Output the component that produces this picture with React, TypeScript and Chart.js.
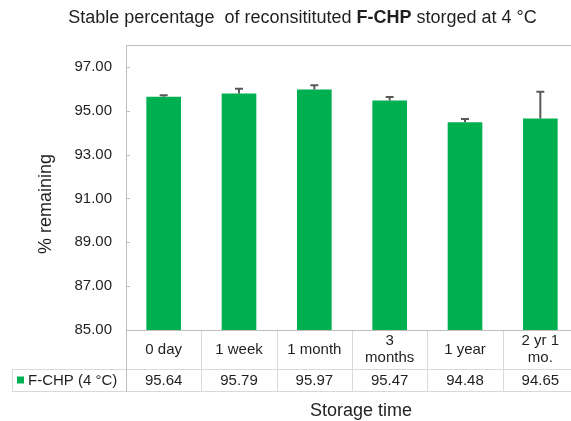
import React, { useEffect, useRef } from "react";
import { Chart, registerables } from "chart.js";

Chart.register(...registerables);

const categories: string[][] = [["0 day"], ["1 week"], ["1 month"], ["3", "months"], ["1 year"], ["2 yr 1", "mo."]];
const values: number[] = [95.64, 95.79, 95.97, 95.47, 94.48, 94.65];
const errors: number[] = [0.07, 0.22, 0.19, 0.16, 0.15, 1.22];
const yTicks: number[] = [85, 87, 89, 91, 93, 95, 97];
const seriesName = "F-CHP (4 °C)";
const titleParts: { text: string; bold: boolean }[] = [
  { text: "Stable percentage  of reconsitituted ", bold: false },
  { text: "F-CHP", bold: true },
  { text: " storged at 4 °C", bold: false },
];
const xTitle = "Storage time";
const yTitle = "% remaining";

const FONT = "'Liberation Sans', Arial, sans-serif";
const GREEN = "#00B050";
const TEXT = "#1f1f1f";

const tablePlugin = {
  id: "tablePlugin",
  afterDatasetsDraw(chart: any) {
    const ctx = chart.ctx;
    const y = chart.scales.y;
    const meta = chart.getDatasetMeta(0);
    ctx.save();
    ctx.strokeStyle = "#595959";
    ctx.lineWidth = 2;
    meta.data.forEach((el: any, i: number) => {
      const top = y.getPixelForValue(values[i] + errors[i]);
      const base = el.y;
      ctx.beginPath();
      ctx.moveTo(el.x, base);
      ctx.lineTo(el.x, top);
      ctx.moveTo(el.x - 4, top);
      ctx.lineTo(el.x + 4, top);
      ctx.stroke();
    });
    ctx.restore();
  },
  afterDraw(chart: any) {
    const ctx = chart.ctx;
    const { left, right, top, bottom } = chart.chartArea;
    const y = chart.scales.y;
    const n = categories.length;
    const cw = (right - left) / n;
    const row1 = bottom + 39;
    const row2 = row1 + 22;
    const tableLeft = 12;
    ctx.save();
    // table inner lines
    ctx.strokeStyle = "#d9d9d9";
    ctx.lineWidth = 1;
    ctx.beginPath();
    ctx.moveTo(tableLeft, Math.round(row1) + 0.5);
    ctx.lineTo(right, Math.round(row1) + 0.5);
    ctx.moveTo(tableLeft, Math.round(row2) + 0.5);
    ctx.lineTo(right, Math.round(row2) + 0.5);
    ctx.moveTo(tableLeft + 0.5, Math.round(row1));
    ctx.lineTo(tableLeft + 0.5, Math.round(row2));
    for (let i = 1; i <= n; i++) {
      const x = Math.round(left + cw * i) + 0.5;
      ctx.moveTo(x, bottom);
      ctx.lineTo(x, row2);
    }
    ctx.stroke();
    // frame
    ctx.strokeStyle = "#bfbfbf";
    ctx.beginPath();
    ctx.moveTo(Math.round(left) + 0.5, Math.round(top));
    ctx.lineTo(Math.round(left) + 0.5, Math.round(row2) + 1);
    ctx.moveTo(left, Math.round(top) + 0.5);
    ctx.lineTo(right, Math.round(top) + 0.5);
    ctx.moveTo(left, Math.round(bottom) + 0.5);
    ctx.lineTo(right, Math.round(bottom) + 0.5);
    ctx.moveTo(Math.round(right) - 0.5, top);
    ctx.lineTo(Math.round(right) - 0.5, bottom);
    // inside tick marks
    yTicks.forEach((v) => {
      const py = Math.round(y.getPixelForValue(v)) + 0.5;
      ctx.moveTo(left, py);
      ctx.lineTo(left + 4, py);
    });
    ctx.stroke();

    // category labels
    ctx.fillStyle = TEXT;
    ctx.font = `15px ${FONT}`;
    ctx.textAlign = "center";
    ctx.textBaseline = "middle";
    const lh = 17;
    categories.forEach((lines, i) => {
      const cx = left + cw * (i + 0.5);
      const cy = (bottom + row1) / 2;
      const start = cy - ((lines.length - 1) * lh) / 2;
      lines.forEach((l, j) => ctx.fillText(l, cx, start + j * lh));
      ctx.fillText(values[i].toFixed(2), cx, (row1 + row2) / 2 + 1);
    });
    // legend key cell
    ctx.fillStyle = GREEN;
    ctx.fillRect(17, (row1 + row2) / 2 - 3.5, 7, 7);
    ctx.fillStyle = TEXT;
    ctx.textAlign = "left";
    ctx.fillText(seriesName, 28, (row1 + row2) / 2 + 1);

    // axis titles
    ctx.font = `18px ${FONT}`;
    ctx.textAlign = "center";
    ctx.fillText(xTitle, 361, 411);
    ctx.save();
    ctx.translate(46, 204);
    ctx.rotate(-Math.PI / 2);
    ctx.fillText(yTitle, 0, 0);
    ctx.restore();

    // title
    const fontN = `18px ${FONT}`;
    const fontB = `bold 18px ${FONT}`;
    let total = 0;
    titleParts.forEach((p) => {
      ctx.font = p.bold ? fontB : fontN;
      total += ctx.measureText(p.text).width;
    });
    let x = 302.5 - total / 2;
    ctx.textAlign = "left";
    titleParts.forEach((p) => {
      ctx.font = p.bold ? fontB : fontN;
      ctx.fillText(p.text, x, 18.5);
      x += ctx.measureText(p.text).width;
    });
    ctx.restore();
  },
};

export default function App() {
  const ref = useRef<HTMLCanvasElement | null>(null);
  useEffect(() => {
    if (!ref.current) return;
    const chart = new Chart(ref.current, {
      type: "bar",
      data: {
        labels: categories.map((c) => c.join(" ")),
        datasets: [
          {
            label: seriesName,
            data: values,
            backgroundColor: GREEN,
            borderWidth: 0,
            barPercentage: 0.46,
            categoryPercentage: 1,
          },
        ],
      },
      options: {
        responsive: false,
        animation: false,
        devicePixelRatio: 1,
        layout: { padding: { left: 0, top: 45, right: 2, bottom: 91 } },
        plugins: { legend: { display: false }, title: { display: false }, tooltip: { enabled: false } },
        scales: {
          x: { display: false, offset: true },
          y: {
            min: 85,
            max: 98,
            afterBuildTicks: (scale: any) => {
              scale.ticks = yTicks.map((v) => ({ value: v }));
            },
            afterFit: (scale: any) => {
              scale.width = 126;
            },
            grid: { display: false, drawTicks: false },
            border: { display: false },
            ticks: {
              padding: 14,
              color: TEXT,
              font: { family: FONT, size: 15 },
              callback: (v: any) => Number(v).toFixed(2),
            },
          },
        },
      },
      plugins: [tablePlugin],
    });
    return () => chart.destroy();
  }, []);
  return (
    <div style={{ position: "fixed", left: 0, top: 0, width: 571, height: 421, overflow: "hidden", background: "#fff" }}>
      <canvas ref={ref} width={580} height={421} style={{ display: "block", width: 580, height: 421 }} />
    </div>
  );
}
